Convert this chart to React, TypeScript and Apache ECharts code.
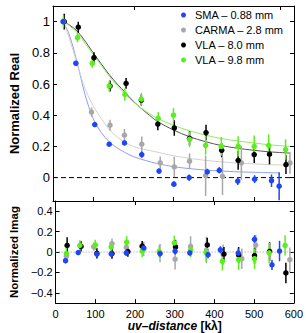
import React, { useEffect, useRef } from "react";
import * as echarts from "echarts";

const FONT = "'Liberation Sans', Arial, Helvetica, sans-serif";

const seriesNames = ["SMA – 0.88 mm", "CARMA – 2.8 mm", "VLA – 8.0 mm", "VLA – 9.8 mm"];
const seriesColors = ["#1e46f5", "#a8a8a8", "#000000", "#5ced1c"];
const modelColors = ["#8e9ef2", "#d2d2d2", "#555555", "#93ea5c"];

// [uv-distance (kλ), normalized real, error]
const smaReal = [
  [25, 1.0, 0.012], [57, 0.733, 0.012], [104, 0.34, 0.015], [140, 0.214, 0.015],
  [178, 0.222, 0.015], [221, 0.148, 0.02], [264, 0.042, 0.015], [301, -0.042, 0.018],
  [339, 0.0, 0.02], [384, 0.036, 0.02], [414, 0.047, 0.02], [460, -0.022, 0.025],
  [502, -0.01, 0.025], [544, -0.02, 0.04], [563, -0.055, 0.09],
];
const carmaReal = [
  [28, 1.0, 0.03], [96, 0.42, 0.03], [142, 0.336, 0.035], [178, 0.272, 0.04],
  [221, 0.214, 0.05], [267, 0.095, 0.04], [302, 0.068, 0.065], [340, 0.105, 0.05],
  [380, 0.012, 0.13], [422, 0.008, 0.12], [469, 0.095, 0.11], [590, 0.094, 0.07],
];
const vla8Real = [
  [28, 1.0, 0.05], [63, 0.964, 0.035], [102, 0.769, 0.035], [142, 0.587, 0.035],
  [182, 0.604, 0.035], [220, 0.497, 0.035], [261, 0.343, 0.04], [302, 0.318, 0.05],
  [340, 0.252, 0.045], [381, 0.289, 0.05], [420, 0.175, 0.045], [461, 0.111, 0.06],
  [501, 0.148, 0.055], [539, 0.15, 0.065], [580, 0.083, 0.06],
];
const vla98Real = [
  [26, 1.0, 0.04], [61, 0.897, 0.03], [98, 0.733, 0.03], [140, 0.587, 0.035],
  [179, 0.533, 0.04], [220, 0.503, 0.04], [262, 0.38, 0.04], [300, 0.4, 0.045],
  [340, 0.245, 0.05], [380, 0.207, 0.06], [419, 0.2, 0.06], [461, 0.2, 0.065],
  [501, 0.2, 0.07], [537, 0.207, 0.07], [579, 0.18, 0.065],
];

// [uv-distance (kλ), normalized imag, error]
const smaImag = [
  [25, -0.085, 0.025], [57, -0.005, 0.025], [104, -0.02, 0.03], [140, -0.017, 0.03],
  [178, -0.007, 0.03], [222, 0.04, 0.03], [263, -0.015, 0.03], [301, 0.01, 0.035],
  [338, -0.007, 0.03], [384, -0.026, 0.035], [415, 0.022, 0.035], [460, -0.01, 0.045],
  [501, 0.125, 0.04], [545, -0.125, 0.05], [564, 0.01, 0.1],
];
const carmaImag = [
  [27, -0.042, 0.04], [96, 0.052, 0.04], [142, 0.083, 0.05], [178, 0.045, 0.06],
  [222, 0.03, 0.07], [263, -0.01, 0.09], [301, -0.07, 0.1], [340, 0.055, 0.1],
  [380, 0.02, 0.13], [422, -0.025, 0.1], [469, -0.065, 0.1], [504, 0.068, 0.1],
  [590, -0.075, 0.12],
];
const vla8Imag = [
  [29, 0.065, 0.08], [64, 0.055, 0.05], [104, -0.012, 0.05], [142, -0.015, 0.05],
  [182, 0.004, 0.05], [218, 0.058, 0.05], [302, 0.05, 0.07], [382, 0.07, 0.07],
  [424, -0.02, 0.07], [461, -0.03, 0.08], [501, -0.035, 0.08], [539, 0.006, 0.09],
  [580, -0.205, 0.1],
];
const vla98Imag = [
  [27, -0.015, 0.06], [61, 0.065, 0.05], [100, 0.07, 0.05], [140, 0.05, 0.05],
  [179, 0.096, 0.06], [218, 0.01, 0.06], [261, 0.006, 0.06], [299, 0.09, 0.07],
  [340, 0.02, 0.07], [379, -0.005, 0.09], [420, -0.09, 0.09], [461, -0.075, 0.1],
  [501, -0.065, 0.1], [538, -0.008, 0.1], [578, 0.065, 0.1],
];

// model curves
const smaModelX = [25, 40, 60, 80, 100, 120, 140, 160, 180, 200, 230, 260, 300, 350, 400, 450, 500, 563];
const smaModelY = [1.0, 0.92, 0.74, 0.53, 0.38, 0.29, 0.23, 0.19, 0.16, 0.135, 0.11, 0.09, 0.07, 0.055, 0.045, 0.038, 0.034, 0.03];
const carmaModelX = [25, 40, 60, 80, 100, 120, 140, 160, 180, 200, 233, 260, 300, 350, 400, 450, 500, 550, 590];
const carmaModelY = [1.0, 0.9, 0.73, 0.57, 0.46, 0.38, 0.31, 0.26, 0.225, 0.2, 0.178, 0.163, 0.14, 0.12, 0.105, 0.095, 0.088, 0.082, 0.08];
const vlaModelX = [25, 40, 60, 80, 100, 120, 140, 160, 180, 200, 220, 240, 260, 300, 340, 380, 420, 460, 500, 540, 590];
const vla8ModelY = [1.0, 0.98, 0.94, 0.875, 0.8, 0.73, 0.66, 0.6, 0.545, 0.49, 0.443, 0.4, 0.36, 0.305, 0.262, 0.23, 0.205, 0.188, 0.175, 0.165, 0.157];
const vla98ModelY = [1.0, 0.975, 0.93, 0.86, 0.79, 0.72, 0.65, 0.59, 0.535, 0.485, 0.445, 0.41, 0.38, 0.335, 0.3, 0.272, 0.25, 0.235, 0.222, 0.21, 0.2];

const xRange = [0, 600];
const zeroLevel = 0;
const xTickValues = [0, 100, 200, 300, 400, 500, 600];
const realTickValues = [0, 0.2, 0.4, 0.6, 0.8, 1];
const imagTickValues = [-0.4, -0.2, 0, 0.2, 0.4];
const topPanelTopTicks = [202, 566];
const bottomPanelTopTicks = [200, 400];

const realSets = [smaReal, carmaReal, vla8Real, vla98Real];
const imagSets = [smaImag, carmaImag, vla8Imag, vla98Imag];
const models = [
  [smaModelX, smaModelY],
  [carmaModelX, carmaModelY],
  [vlaModelX, vla8ModelY],
  [vlaModelX, vla98ModelY],
];
const drawOrder = [1, 2, 3, 0];

function errRender(color: string) {
  return (params: any, api: any) => {
    const x = api.value(0);
    const y = api.value(1);
    const e = api.value(2);
    const p1 = api.coord([x, y - e]);
    const p2 = api.coord([x, y + e]);
    const cs = params.coordSys;
    const cl = (v: number) => Math.max(cs.y, Math.min(cs.y + cs.height, v));
    return {
      type: "line",
      shape: { x1: p1[0], y1: cl(p1[1]), x2: p2[0], y2: cl(p2[1]) },
      style: { stroke: color, lineWidth: 1.5 },
    };
  };
}

const axisLineStyle = { onZero: false, lineStyle: { color: "#000", width: 1 } };

export default function App() {
  const ref = useRef<HTMLDivElement>(null);
  useEffect(() => {
    if (!ref.current) return;
    const chart = echarts.init(ref.current, null, { renderer: "svg" });
    const series: any[] = [];
    series.push({
      type: "line",
      name: "zeroReal",
      xAxisIndex: 0,
      yAxisIndex: 0,
      data: xRange.map((x) => [x, zeroLevel]),
      showSymbol: false,
      silent: true,
      lineStyle: { type: [5, 3], color: "#000", width: 1 },
      z: 1,
    });
    series.push({
      type: "line",
      name: "zeroImag",
      xAxisIndex: 2,
      yAxisIndex: 2,
      data: xRange.map((x) => [x, zeroLevel]),
      showSymbol: false,
      silent: true,
      lineStyle: { type: [1, 2], color: "#999", width: 1 },
      z: 1,
    });
    models.forEach((m, i) => {
      series.push({
        type: "line",
        name: "model" + i,
        xAxisIndex: 0,
        yAxisIndex: 0,
        data: m[0].map((x, k) => [x, m[1][k]]),
        smooth: 0.35,
        showSymbol: false,
        lineStyle: { color: modelColors[i], width: 1 },
        itemStyle: { color: modelColors[i] },
        silent: true,
        z: 1,
      });
    });
    drawOrder.forEach((i) => {
      [
        [realSets[i], 0],
        [imagSets[i], 2],
      ].forEach(([set, ax]: any) => {
        series.push({
          type: "custom",
          name: "err" + i + "_" + ax,
          xAxisIndex: ax,
          yAxisIndex: ax,
          data: set,
          encode: { x: 0, y: 1 },
          renderItem: errRender(seriesColors[i]),
          silent: true,
          z: 2,
        });
        series.push({
          type: "scatter",
          name: seriesNames[i],
          xAxisIndex: ax,
          yAxisIndex: ax,
          data: set.map((d: number[]) => [d[0], d[1]]),
          symbol: "circle",
          symbolSize: 5.5,
          itemStyle: { color: seriesColors[i], opacity: 1 },
          z: 2,
        });
      });
    });

    const option: any = {
      animation: false,
      backgroundColor: "#fff",
      textStyle: { fontFamily: FONT },
      grid: [
        { left: 42, top: 6, width: 252, height: 195, containLabel: false },
        { left: 42, top: 201, width: 252, height: 103, containLabel: false },
      ],
      legend: {
        data: seriesNames,
        orient: "vertical",
        left: 181,
        top: 8,
        itemWidth: 5,
        itemHeight: 5,
        icon: "circle",
        itemGap: 1,
        padding: 0,
        selectedMode: false,
        textStyle: { fontSize: 11, lineHeight: 14, color: "#000", fontFamily: FONT, padding: [0, 0, 0, 4] },
      },
      xAxis: [
        {
          gridIndex: 0, type: "value", position: "bottom", min: 0, max: 600, interval: 100,
          axisLine: axisLineStyle, axisTick: { inside: true, length: 4, lineStyle: { color: "#000" } },
          axisLabel: { show: false }, splitLine: { show: false },
        },
        {
          gridIndex: 0, type: "value", position: "top", min: 0, max: 600,
          axisLine: axisLineStyle,
          axisTick: { inside: true, length: 4, customValues: topPanelTopTicks, lineStyle: { color: "#000" } },
          axisLabel: { show: false }, splitLine: { show: false },
        },
        {
          gridIndex: 1, type: "value", position: "bottom", min: 0, max: 600, interval: 100,
          axisLine: axisLineStyle,
          axisTick: { inside: true, length: 4, lineStyle: { color: "#000" } },
          axisLabel: { show: true, customValues: xTickValues, fontSize: 11, color: "#000", margin: 5, fontFamily: FONT },
          splitLine: { show: false },
          name: "{i|uv–distance} {b|[kλ]}",
          nameLocation: "middle",
          nameGap: 13,
          nameTextStyle: {
            rich: {
              i: { fontStyle: "italic", fontWeight: "bold", fontSize: 12, fontFamily: FONT, color: "#000" },
              b: { fontWeight: "bold", fontSize: 12, fontFamily: FONT, color: "#000" },
            },
          },
        },
        {
          gridIndex: 1, type: "value", position: "top", min: 0, max: 600,
          axisLine: axisLineStyle,
          axisTick: { inside: true, length: 4, customValues: bottomPanelTopTicks, lineStyle: { color: "#000" } },
          axisLabel: { show: false }, splitLine: { show: false },
        },
      ],
      yAxis: [
        {
          gridIndex: 0, type: "value", position: "left", min: -0.15, max: 1.1,
          axisLine: axisLineStyle,
          axisTick: { inside: true, length: 4, customValues: realTickValues, lineStyle: { color: "#000" } },
          axisLabel: { customValues: realTickValues, fontSize: 13, color: "#000", margin: 3, fontFamily: FONT },
          splitLine: { show: false },
          name: "Normalized Real",
          nameLocation: "middle",
          nameGap: 19,
          nameTextStyle: { fontWeight: "bold", fontSize: 13, color: "#000", fontFamily: FONT },
        },
        {
          gridIndex: 0, type: "value", position: "right", min: -0.15, max: 1.1,
          axisLine: axisLineStyle,
          axisTick: { inside: true, length: 4, customValues: realTickValues, lineStyle: { color: "#000" } },
          axisLabel: { show: false }, splitLine: { show: false },
        },
        {
          gridIndex: 1, type: "value", position: "left", min: -0.5, max: 0.5,
          axisLine: axisLineStyle,
          axisTick: { inside: true, length: 4, customValues: imagTickValues, lineStyle: { color: "#000" } },
          axisLabel: {
            customValues: imagTickValues, fontSize: 11, color: "#000", margin: 3, fontFamily: FONT,
            formatter: (v: number) => String(Math.round(v * 10) / 10).replace("-", "−"),
          },
          splitLine: { show: false },
          name: "Normalized Imag",
          nameLocation: "middle",
          nameGap: 26,
          nameTextStyle: { fontWeight: "bold", fontSize: 11.5, color: "#000", fontFamily: FONT },
        },
        {
          gridIndex: 1, type: "value", position: "right", min: -0.5, max: 0.5,
          axisLine: axisLineStyle,
          axisTick: { inside: true, length: 4, customValues: imagTickValues, lineStyle: { color: "#000" } },
          axisLabel: { show: false }, splitLine: { show: false },
        },
      ],
      series,
    };
    chart.setOption(option);
    return () => chart.dispose();
  }, []);
  return (
    <div
      ref={ref}
      style={{ position: "fixed", left: 0, top: 0, width: 306, height: 333, background: "#fff" }}
    />
  );
}
